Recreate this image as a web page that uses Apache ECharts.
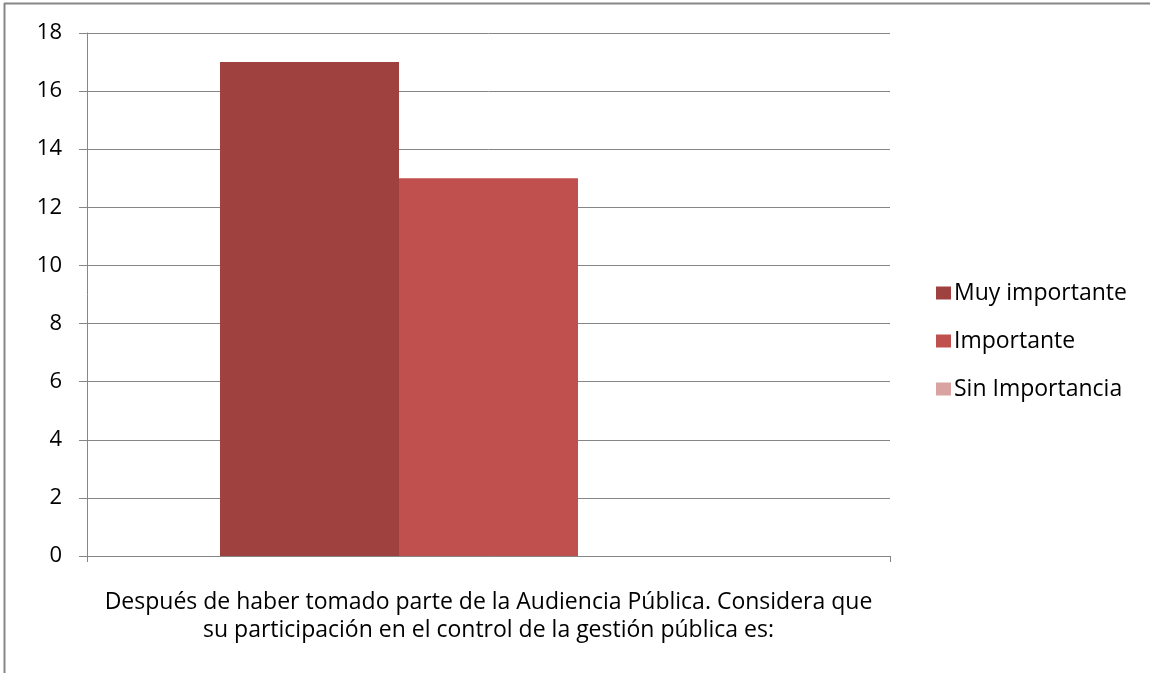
<!DOCTYPE html>
<html>
<head>
<meta charset="utf-8">
<script src="https://cdn.jsdelivr.net/npm/echarts@6/dist/echarts.min.js"></script>
<style>
  html, body { margin: 0; padding: 0; background: #fff; }
  #chart { width: 1150px; height: 673px; }
</style>
</head>
<body>
<div id="chart"></div>
<script>
const categories = ['Después de haber tomado parte de la Audiencia Pública. Considera que\nsu participación en el control de la gestión pública es:'];
const seriesNames = ['Muy importante', 'Importante', 'Sin Importancia'];
const muyImportante = [17];
const importante = [13];
const sinImportancia = [0];
const seriesColors = ['#9E413F', '#C0504D', '#D9A3A2'];
const seriesValues = [muyImportante, importante, sinImportancia];

const font = '"Open Sans", "Liberation Sans", sans-serif';
const chart = echarts.init(document.getElementById('chart'));

chart.setOption({
  animation: false,
  textStyle: { fontFamily: font },
  grid: { left: 87, right: 260, top: 33, bottom: 117, containLabel: false },
  legend: {
    orient: 'vertical',
    left: 931,
    top: 272,
    itemWidth: 15,
    itemHeight: 13,
    itemGap: 16,
    icon: 'rect',
    textStyle: { fontSize: 23, color: '#000', fontFamily: font, lineHeight: 32, padding: [0, 0, 0, -2] },
    data: seriesNames
  },
  xAxis: {
    type: 'category',
    data: categories,
    axisLine: { lineStyle: { color: '#868686', width: 1 } },
    axisTick: { show: true, length: 6, alignWithLabel: false, lineStyle: { color: '#868686' } },
    axisLabel: { fontSize: 23, color: '#000', margin: 32, lineHeight: 28, align: 'center' }
  },
  yAxis: {
    type: 'value',
    min: 0,
    max: 18,
    interval: 2,
    axisLine: { show: true, lineStyle: { color: '#868686', width: 1 } },
    axisTick: { show: true, length: 8, lineStyle: { color: '#868686' } },
    splitLine: { lineStyle: { color: '#868686', width: 1 } },
    axisLabel: { fontSize: 22, color: '#000', margin: 25 }
  },
  series: seriesNames.map((name, i) => ({
    name: name,
    type: 'bar',
    data: seriesValues[i],
    barWidth: 179,
    barGap: '0%',
    itemStyle: { color: seriesColors[i] }
  })),
  graphic: [
    { type: 'line', shape: { x1: 4, y1: 3.5, x2: 1150, y2: 3.5 }, style: { stroke: '#868686', lineWidth: 2 }, silent: true },
    { type: 'line', shape: { x1: 4.5, y1: 3, x2: 4.5, y2: 673 }, style: { stroke: '#868686', lineWidth: 2 }, silent: true }
  ]
});
</script>
</body>
</html>
